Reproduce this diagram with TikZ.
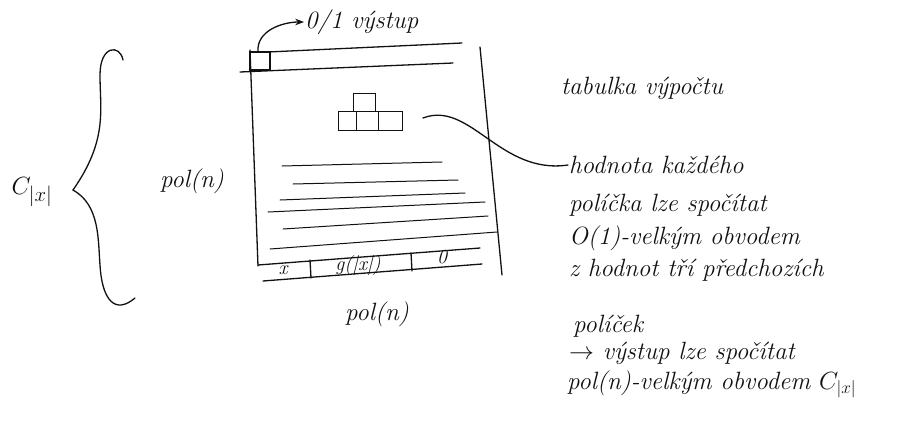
\documentclass[tikz,border=0pt]{standalone}
\usepackage{amsmath,amssymb}
\usepackage{tikz}
\usetikzlibrary{calc,arrows.meta,positioning}
\definecolor{tinta}{HTML}{111111}

\begin{document}
\begin{tikzpicture}[x=1pt,y=-1pt,>=Stealth,line cap=round,tinta,
    trazo/.style={draw=tinta,line width=1.3pt},
    rotulo/.style={font=\fontsize{25}{28}\selectfont\itshape,inner sep=1pt},
    celda/.style={font=\fontsize{20}{24}\selectfont\itshape,inner sep=1pt}]
        \useasboundingbox (0,0) rectangle (903,426);
        % tabulka
        \draw[trazo] (250,50) -- (258,266);
        \draw[trazo] (480,47) -- (502,275);
        \draw[trazo] (268,52) -- (462,43);
        \draw[trazo] (240,72) -- (453,63);
        \foreach \xa/\ya/\xb/\yb in {282/166/442/162,293/184/458/180,280/200/465/193,
                                     268/212/485/202,283/229/488/216,270/249/497/232}{
          \draw[trazo,line width=1pt] (\xa,\ya) -- (\xb,\yb);
        }
        \draw[trazo] (258,265) -- (480,248);
        \draw[trazo] (263,281) -- (482,264);
        \draw[trazo] (310,260) -- (311,278);
        \draw[trazo] (411,253) -- (412,271);
        \node[celda] (bx) at (283,270) {x};
        \node[celda] (bg) at (358,266) {g(|x|)};
        \node[celda] (b0) at (442,257) {0};
        % vystupni policko
        \draw[trazo] (250,52) rectangle (270,70);
        \coordinate (out) at (258,52);
        \node[rotulo,anchor=west] (vystup) at (304,22) {0/1 výstup};
        \draw[trazo,->] (out) to[out=95,in=180] (vystup.west);
        % zavislost policka
        \draw[trazo,line width=1pt] (353,93) rectangle (375,111);
        \foreach \x/\w in {338/18,356/22,378/24}{
          \draw[trazo,line width=1pt] (\x,111) rectangle ++(\w,19);
        }
        % popisky
        \node[rotulo] (polv) at (192,181) {pol(n)};
        \node[rotulo] (polh) at (377,314) {pol(n)};
        \node[rotulo] (tab) at (642,88) {tabulka výpočtu};
        \draw[trazo] (123,60) .. controls (120,44) and (100,45) .. (100,75)
                     .. controls (100,110) and (108,140) .. (73,190)
                     .. controls (100,205) and (98,240) .. (100,265)
                     .. controls (102,300) and (115,315) .. (135,298);
        \node[font=\fontsize{30}{34}\selectfont] (cx) at (32,192) {$C_{|x|}$};
        \node[rotulo,anchor=west] (hodnota) at (568,165) {hodnota každého};
        \node[rotulo,anchor=west] (l2) at (568,205) {políčka lze spočítat};
        \node[rotulo,anchor=west] (l3) at (568,238) {O(1)-velkým obvodem};
        \node[rotulo,anchor=west] (l4) at (568,270) {z hodnot tří předchozích};
        \node[rotulo,anchor=west] (l5) at (572,326) {políček};
        \node[rotulo,anchor=west] (l6) at (568,353) {$\rightarrow$ výstup lze spočítat};
        \node[rotulo,anchor=west] (l7) at (566,384) {pol(n)-velkým obvodem $C_{|x|}$};
        \coordinate (bunka) at (423,118);
        \draw[trazo] (bunka) .. controls (470,100) and (500,175) .. (hodnota.west);
      \end{tikzpicture}
\end{document}
